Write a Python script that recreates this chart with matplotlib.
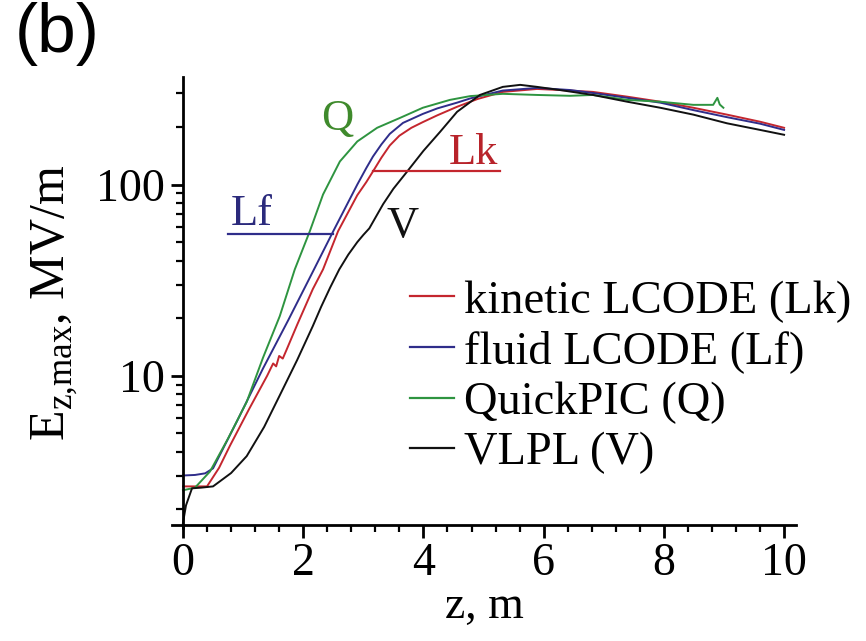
import matplotlib
matplotlib.use('Agg')
import matplotlib.pyplot as plt
from matplotlib.ticker import FixedLocator, MultipleLocator, NullFormatter

plt.rcParams['font.family'] = ['Liberation Serif', 'DejaVu Serif']
plt.rcParams['mathtext.fontset'] = 'custom'
plt.rcParams['mathtext.rm'] = 'Liberation Serif'

# kinetic LCODE (Lk)
z_lk = [0.0, 0.2, 0.4, 0.6, 0.78, 1.1, 1.4, 1.5, 1.55, 1.6, 1.66, 1.72, 1.9, 2.16, 2.33,
        2.58, 2.9, 3.05, 3.16, 3.3, 3.44, 3.6, 3.8, 3.99, 4.23, 4.56, 4.9, 5.32, 5.89,
        6.27, 6.82, 7.39, 7.94, 8.49, 9.05, 9.6, 10.0]
e_lk = [2.64, 2.64, 2.64, 3.3, 4.3, 6.7, 10.0, 11.6, 11.2, 12.7, 12.3, 13.6, 18.5, 28.4, 36,
        57, 88, 103, 117, 138, 160, 180, 198, 212, 230, 255, 280, 305, 316,
        312, 305, 288, 271, 252, 232, 213, 198]

# fluid LCODE (Lf)
z_lf = [0.0, 0.2, 0.37, 0.5, 0.9, 1.33, 1.75, 2.16, 2.5, 2.9, 3.05, 3.16, 3.3, 3.44,
        3.66, 3.99, 4.23, 4.56, 4.78, 5.32, 5.89, 6.44, 6.82, 7.39, 7.94, 8.49, 9.05,
        9.6, 10.0]
e_lf = [3.01, 3.03, 3.09, 3.28, 5.8, 10.9, 19.5, 35, 57, 100, 122, 140, 162, 184,
        210, 234, 250, 268, 282, 310, 320, 312, 301, 284, 268, 245, 225,
        208, 193]

# QuickPIC (Q)
z_q = [0.0, 0.2, 0.45, 0.75, 1.06, 1.33, 1.61, 1.86, 2.11, 2.33, 2.61, 2.9, 3.23,
       3.61, 3.99, 4.44, 4.78, 5.32, 5.89, 6.44, 6.82, 7.39, 7.94, 8.49, 8.82, 8.89,
       8.93, 8.99]
e_q = [2.52, 2.6, 3.16, 4.7, 7.3, 12.4, 20.5, 36, 57, 88.7, 132, 168, 198,
       223, 252, 277, 290, 298, 294, 291, 294, 277, 271, 261, 261, 284,
       262, 252]

# VLPL (V)
z_v = [0.0, 0.05, 0.15, 0.3, 0.5, 0.8, 1.06, 1.35, 1.61, 1.9, 2.16, 2.3, 2.45, 2.6,
       2.75, 2.9, 3.0, 3.1, 3.2, 3.33, 3.5, 3.73, 4.0, 4.28, 4.56, 4.94, 5.32, 5.61,
       5.89, 6.27, 6.82, 7.39, 7.94, 8.49, 9.05, 9.6, 10.0]
e_v = [1.7, 2.1, 2.58, 2.6, 2.64, 3.1, 3.8, 5.4, 7.9, 12.1, 18.2, 23, 29, 36,
       43, 50, 54.5, 59, 67, 79, 95, 117, 150, 189, 240, 294, 324, 332,
       324, 312, 294, 271, 252, 232, 209, 193, 182]

series = [
    ('kinetic LCODE (Lk)', z_lk, e_lk, '#c4262e'),
    ('fluid LCODE (Lf)', z_lf, e_lf, '#2f2d8a'),
    ('QuickPIC (Q)', z_q, e_q, '#2e9440'),
    ('VLPL (V)', z_v, e_v, '#111111'),
]

# curve tags: text, z, E, colour
tags = [
    ('Q', 2.56, 220, '#3f8a2c'),
    ('Lk', 4.83, 147, '#b8232a'),
    ('Lf', 1.15, 70, '#2b2a7c'),
    ('V', 3.66, 61, '#111111'),
]
# leader lines under Lk and Lf
lk_line_z = [3.16, 5.27]
lk_line_e = [117, 117]
lf_line_z = [0.75, 2.5]
lf_line_e = [55, 55]

fig = plt.figure(figsize=(8.66, 6.41), dpi=100)
ax = fig.add_axes([0.1988, 0.1763, 0.7205, 0.7036])

for name, z, e, c in series:
    ax.plot(z, e, color=c, lw=1.4, label=name)

ax.plot(lk_line_z, lk_line_e, color='#c4262e', lw=1.6)
ax.plot(lf_line_z, lf_line_e, color='#2f2d8a', lw=1.6)
for t, z, e, c in tags:
    ax.text(z, e, t, color=c, fontsize=32, ha='center', va='center')

ax.set_yscale('log')
ax.set_xlim(-0.18, 10.2)
ax.set_ylim(1.6, 365)

ax.spines['top'].set_visible(False)
ax.spines['right'].set_visible(False)
ax.spines['left'].set_position(('data', 0))
ax.spines['bottom'].set_position(('data', 1.66))
for s in ('left', 'bottom'):
    ax.spines[s].set_linewidth(2.0)

ax.xaxis.set_major_locator(MultipleLocator(2))
ax.xaxis.set_minor_locator(MultipleLocator(0.4))
ax.yaxis.set_major_locator(FixedLocator([10, 100]))
ax.yaxis.set_minor_locator(FixedLocator([2, 3, 4, 5, 6, 7, 8, 9,
                                         20, 30, 40, 50, 60, 70, 80, 90, 200, 300]))
ax.yaxis.set_minor_formatter(NullFormatter())
ax.set_yticklabels(['10', '100'])
ax.tick_params(which='major', direction='out', length=9, width=2.0, labelsize=33, pad=4)
ax.tick_params(which='minor', direction='out', length=5, width=1.6)

ax.set_xlabel('z, m', fontsize=33, labelpad=0)
ax.set_ylabel(r'E$_{\mathrm{z{,}max}}$, MV/m', fontsize=36, labelpad=12)

leg = ax.legend(loc='upper left', bbox_to_anchor=(410 / 866, 1 - 280 / 641),
                bbox_transform=fig.transFigure, frameon=False, fontsize=33.5,
                handlelength=0.95, handletextpad=0.2, labelspacing=0.17,
                borderpad=0, borderaxespad=0)
for ln in leg.get_lines():
    ln.set_linewidth(1.6)

fig.text(0.017, 1 - 52 / 641, '(b)', fontsize=50, family='Liberation Sans',
         va='baseline')

fig.savefig('out.png', dpi=100)
